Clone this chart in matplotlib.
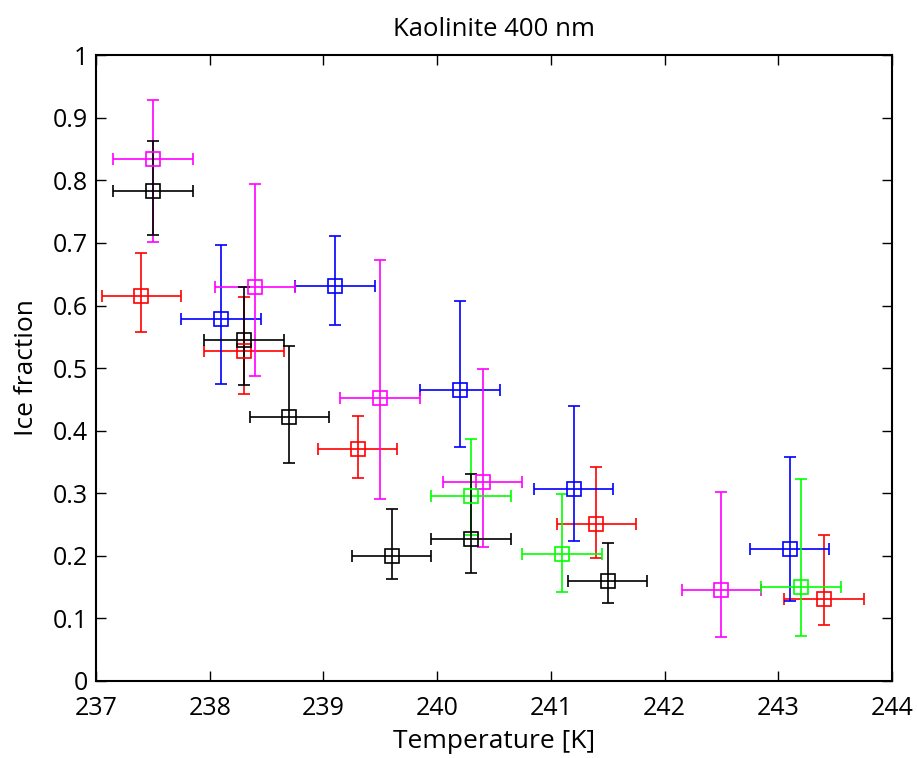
import matplotlib
matplotlib.use("Agg")
import matplotlib.pyplot as plt
from matplotlib.ticker import MultipleLocator
import numpy as np

plt.rcParams['font.family'] = ['Open Sans', 'DejaVu Sans']

# Ice fraction vs temperature, one series per colour.
# Each series: temperature [K], ice fraction, lower bound, upper bound.
temp_err = 0.35

red_T = [237.4, 238.3, 239.3, 241.4, 243.4]
red_f = [0.616, 0.528, 0.370, 0.251, 0.131]
red_lo = [0.557, 0.459, 0.324, 0.196, 0.089]
red_hi = [0.684, 0.614, 0.424, 0.342, 0.233]

blue_T = [238.1, 239.1, 240.2, 241.2, 243.1]
blue_f = [0.578, 0.632, 0.465, 0.306, 0.210]
blue_lo = [0.475, 0.569, 0.374, 0.224, 0.127]
blue_hi = [0.697, 0.711, 0.607, 0.440, 0.357]

mag_T = [237.5, 238.4, 239.5, 240.4, 242.5]
mag_f = [0.835, 0.629, 0.452, 0.318, 0.145]
mag_lo = [0.701, 0.488, 0.291, 0.214, 0.069]
mag_hi = [0.929, 0.795, 0.673, 0.498, 0.301]

green_T = [240.3, 241.1, 243.2]
green_f = [0.295, 0.202, 0.150]
green_lo = [0.233, 0.141, 0.072]
green_hi = [0.386, 0.299, 0.322]

black_T = [237.5, 238.3, 238.7, 239.6, 240.3, 241.5]
black_f = [0.783, 0.545, 0.422, 0.199, 0.226, 0.160]
black_lo = [0.712, 0.473, 0.348, 0.162, 0.172, 0.124]
black_hi = [0.863, 0.629, 0.535, 0.274, 0.330, 0.220]

series = [
    (red_T, red_f, red_lo, red_hi, '#ff0000'),
    (blue_T, blue_f, blue_lo, blue_hi, '#0000ff'),
    (mag_T, mag_f, mag_lo, mag_hi, '#ff00ff'),
    (green_T, green_f, green_lo, green_hi, '#00ff00'),
    (black_T, black_f, black_lo, black_hi, '#000000'),
]

fig = plt.figure(figsize=(9.17, 7.58), dpi=100)
ax = fig.add_axes([0.1047, 0.1022, 0.868, 0.8246])

for T, f, lo, hi, c in series:
    f = np.asarray(f)
    yerr = [f - np.asarray(lo), np.asarray(hi) - f]
    ax.errorbar(T, f, yerr=yerr, xerr=temp_err, fmt='s', color=c,
                mfc='none', mec=c, ms=10, mew=1.2, elinewidth=1.2,
                capsize=4, capthick=1.2)

ax.set_xlim(237, 244)
ax.set_ylim(0, 1)
ax.xaxis.set_major_locator(MultipleLocator(1))
ax.yaxis.set_major_locator(MultipleLocator(0.1))
ax.set_yticklabels([('%g' % v) for v in ax.get_yticks()])
ax.tick_params(direction='in', length=7, width=1, labelsize=18,
               top=True, right=True)
ax.tick_params(axis='x', pad=11)
ax.tick_params(axis='y', pad=6)
for s in ax.spines.values():
    s.set_linewidth(1.5)

ax.set_xlabel('Temperature [K]', fontsize=19, labelpad=6)
ax.set_ylabel('Ice fraction', fontsize=19, labelpad=10)
ax.set_title('Kaolinite 400 nm', fontsize=18.5, pad=14)

fig.savefig('out.png', dpi=100)
